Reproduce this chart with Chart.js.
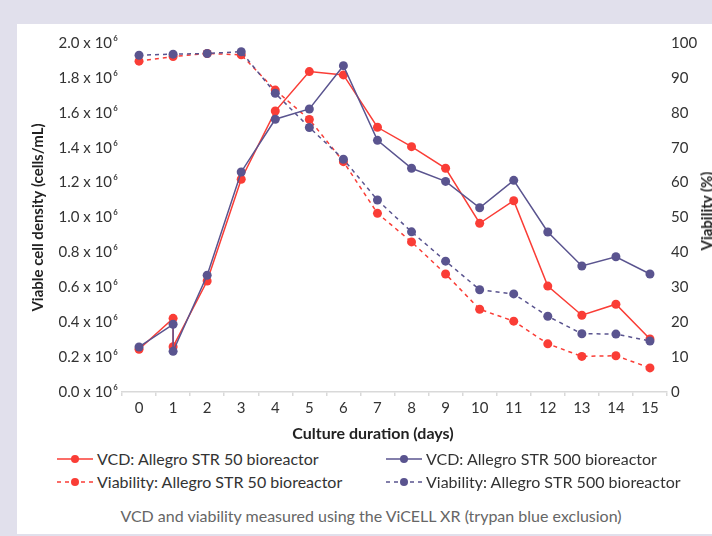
<!DOCTYPE html>
<html>
<head>
<meta charset="utf-8">
<script src="https://cdn.jsdelivr.net/npm/chart.js@4"></script>
<style>
  html, body { margin:0; padding:0; width:712px; height:536px; overflow:hidden; background:#e1e0ec; font-family:Lato, "Open Sans", sans-serif; }
  #panel { position:absolute; left:17px; top:24px; width:695px; height:510px; background:#ffffff; }
  #c { position:absolute; left:0; top:0; }
  .lg { position:absolute; font-size:16px; color:#333; white-space:nowrap; line-height:18px; }
  .lg svg { position:absolute; }
  #rtitle { position:absolute; left:706px; top:211px; transform:translate(-50%,-50%) rotate(-90deg); font-size:15px; font-weight:bold; color:#222; white-space:nowrap; }
  #xtitle { position:absolute; left:373px; top:432px; transform:translate(-50%,-50%); font-size:16px; font-weight:bold; color:#222; white-space:nowrap; }
  #caption { position:absolute; left:0; width:742px; top:506px; text-align:center; font-size:16px; color:#666; }
</style>
</head>
<body>
<div id="panel"></div>
<canvas id="c" width="712" height="445"></canvas>
<div id="rtitle">Viability (%)</div>
<div id="xtitle"></div>
<div id="legend"></div>
<div id="caption">VCD and viability measured using the ViCELL XR (trypan blue exclusion)</div>
<script>
// ---- data ----
const vcdDays = [0, 1, 1, 2, 3, 4, 5, 6, 7, 8, 9, 10, 11, 12, 13, 14, 15];
const viabDays = [0, 1, 2, 3, 4, 5, 6, 7, 8, 9, 10, 11, 12, 13, 14, 15];
const vcdStr50 = [0.245, 0.422, 0.260, 0.636, 1.219, 1.610, 1.836, 1.817, 1.517, 1.406, 1.282, 0.967, 1.096, 0.607, 0.440, 0.503, 0.304]; // x 10^6 cells/mL
const vcdStr500 = [0.258, 0.388, 0.233, 0.669, 1.261, 1.563, 1.622, 1.870, 1.442, 1.282, 1.207, 1.056, 1.213, 0.917, 0.722, 0.775, 0.676];
const viabStr50 = [94.8, 96.1, 97.0, 96.6, 86.5, 78.1, 66.0, 51.2, 43.0, 33.8, 23.7, 20.3, 13.8, 10.2, 10.4, 6.9];
const viabStr500 = [96.5, 96.8, 97.0, 97.5, 85.6, 75.8, 66.7, 55.0, 45.9, 37.5, 29.3, 28.1, 21.7, 16.7, 16.6, 14.6];
const seriesNames = ['VCD: Allegro STR 50 bioreactor', 'Viability: Allegro STR 50 bioreactor', 'VCD: Allegro STR 500 bioreactor', 'Viability: Allegro STR 500 bioreactor'];
const xTitle = 'Culture duration (days)';
const yTitle = 'Viable cell density (cells/mL)';

const RED = '#fa3d36';
const PURPLE = '#5a548f';

document.getElementById('xtitle').textContent = xTitle;

const pts = (xs, ys, mult) => xs.map((x, i) => ({ x: x, y: ys[i] * mult }));

const baseDs = (color, dashed) => ({
  borderColor: color, backgroundColor: color,
  pointBackgroundColor: color, pointBorderColor: color,
  pointRadius: 4.5, pointBorderWidth: 0, borderWidth: 1.5,
  borderDash: dashed ? [4, 4] : [], tension: 0, fill: false
});

const datasets = [
  Object.assign({ label: seriesNames[2], data: pts(vcdDays, vcdStr500, 1e6), yAxisID: 'y' }, baseDs(PURPLE, false)),
  Object.assign({ label: seriesNames[3], data: pts(viabDays, viabStr500, 1), yAxisID: 'y2' }, baseDs(PURPLE, true)),
  Object.assign({ label: seriesNames[0], data: pts(vcdDays, vcdStr50, 1e6), yAxisID: 'y' }, baseDs(RED, false)),
  Object.assign({ label: seriesNames[1], data: pts(viabDays, viabStr50, 1), yAxisID: 'y2' }, baseDs(RED, true))
];

const tickFont = { family: 'Lato', size: 15 };
const titleFont = { family: 'Lato', size: 15, weight: 'bold' };

new Chart(document.getElementById('c'), {
  type: 'line',
  data: { datasets: datasets },
  options: {
    responsive: false, animation: false,
    layout: { padding: { left: 25, top: 43, right: 0, bottom: 0 } },
    plugins: { legend: { display: false }, tooltip: { enabled: false } },
    scales: {
      x: {
        type: 'linear', min: -0.5, max: 15.5,
        afterBuildTicks: s => { const t = []; for (let v = -0.5; v <= 15.5; v += 0.5) t.push({ value: v }); s.ticks = t; },
        ticks: { autoSkip: false, maxRotation: 0, padding: 3, color: '#333', font: tickFont,
                 callback: v => Number.isInteger(v) ? String(v) : '' },
        grid: { drawOnChartArea: false, tickLength: 4, lineWidth: 1.5,
                color: c => (c.tick && !Number.isInteger(c.tick.value)) ? '#d9d9d9' : 'rgba(0,0,0,0)' },
        border: { color: '#d9d9d9', width: 1.5 },
        title: { display: false },
        afterFit: s => { s.height = 53; }
      },
      y: {
        position: 'left', min: 0, max: 2e6,
        ticks: { stepSize: 2e5, padding: 4, color: '#333', font: tickFont,
                 callback: v => (v / 1e6).toFixed(1) + ' x 10\u200A\u2076' },
        grid: { display: false, drawTicks: false }, border: { display: false },
        title: { display: true, text: yTitle, font: titleFont, color: '#222', padding: { top: 4, bottom: 4 } },
        afterFit: s => { s.width = 97; }
      },
      y2: {
        position: 'right', min: 0, max: 100,
        ticks: { stepSize: 10, padding: 4, color: '#333', font: tickFont },
        grid: { display: false, drawTicks: false }, border: { display: false },
        afterFit: s => { s.width = 45; }
      }
    }
  }
});

// ---- HTML legend ----
const legendItems = [
  { name: seriesNames[0], color: RED, dashed: false, x: 57, y: 459 },
  { name: seriesNames[1], color: RED, dashed: true, x: 57, y: 482 },
  { name: seriesNames[2], color: PURPLE, dashed: false, x: 386, y: 459 },
  { name: seriesNames[3], color: PURPLE, dashed: true, x: 386, y: 482 }
];
const lg = document.getElementById('legend');
legendItems.forEach(it => {
  const d = document.createElement('div');
  d.className = 'lg';
  d.style.left = it.x + 'px';
  d.style.top = (it.y - 9) + 'px';
  d.style.paddingLeft = '40px';
  const dash = it.dashed ? ' stroke-dasharray="4 4"' : '';
  d.innerHTML = '<svg width="36" height="10" style="left:0;top:4px">' +
    '<line x1="0" y1="5" x2="36" y2="5" stroke="' + it.color + '" stroke-width="1.5"' + dash + '/>' +
    '<circle cx="18" cy="5" r="4" fill="' + it.color + '"/></svg>' + it.name;
  lg.appendChild(d);
});
</script>
</body>
</html>
